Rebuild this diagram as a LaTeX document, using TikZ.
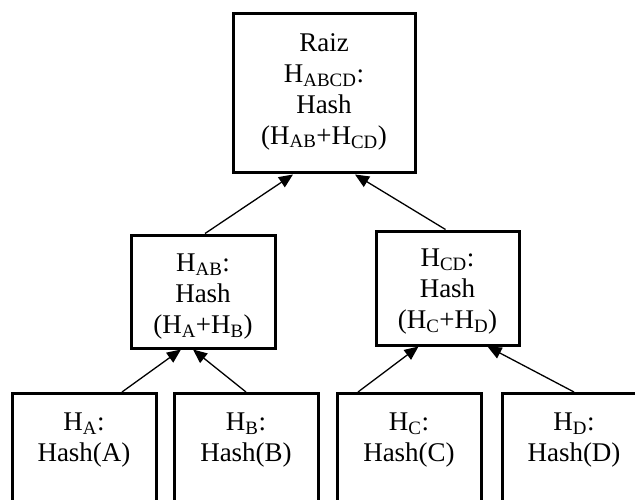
\documentclass[tikz,border=0pt]{standalone}
\usepackage{fontspec}
\setmainfont{Liberation Serif}
\usetikzlibrary{arrows.meta}
\begin{document}
\begin{tikzpicture}[x=1pt,y=-1pt,
  every node/.style={font=\fontsize{27}{31}\selectfont, align=center},
  box/.style={draw, line width=3pt, inner sep=0pt},
  leafbox/.style={box, minimum width=144pt, minimum height=140pt, anchor=north},
  link/.style={line width=1.3pt, -{Triangle[length=14pt,width=12pt]}}]
\useasboundingbox (0,0) rectangle (635,500);
\clip (0,0) rectangle (635,500);
\node[box, minimum width=182pt, minimum height=159pt] (root) at (324,93.5) {};
\node (roottext) at (324,91.5)
  {Raiz\\H\textsubscript{ABCD}:\\Hash\\(H\textsubscript{AB}+H\textsubscript{CD})};
\node[box, minimum width=144pt, minimum height=113pt] (AB) at (203,291.5) {};
\node (ABtext) at (203,296.5)
  {H\textsubscript{AB}:\\Hash\\(H\textsubscript{A}+H\textsubscript{B})};
\node[box, minimum width=143pt, minimum height=114pt] (CD) at (447.5,288) {};
\node (CDtext) at (447.5,292)
  {H\textsubscript{CD}:\\Hash\\(H\textsubscript{C}+H\textsubscript{D})};
\node[leafbox] (A) at (84,392) {};
\node (Atext) at (84,440) {H\textsubscript{A}:\\Hash(A)};
\node[leafbox] (B) at (246,392) {};
\node (Btext) at (246,440) {H\textsubscript{B}:\\Hash(B)};
\node[leafbox] (C) at (409,392) {};
\node (Ctext) at (409,440) {H\textsubscript{C}:\\Hash(C)};
\node[leafbox] (D) at (574,392) {};
\node (Dtext) at (574,440) {H\textsubscript{D}:\\Hash(D)};
\draw[link] ([xshift=2pt]AB.north) -- ([xshift=-31pt]root.south);
\draw[link] ([xshift=-2pt]CD.north) -- ([xshift=31pt]root.south);
\draw[link] ([xshift=38pt]A.north) -- ([xshift=-22pt]AB.south);
\draw[link] (B.north) -- ([xshift=-10pt]AB.south);
\draw[link] ([xshift=-51pt]C.north) -- ([xshift=-29pt]CD.south);
\draw[link] (D.north) -- ([xshift=40pt]CD.south);
\end{tikzpicture}
\end{document}
